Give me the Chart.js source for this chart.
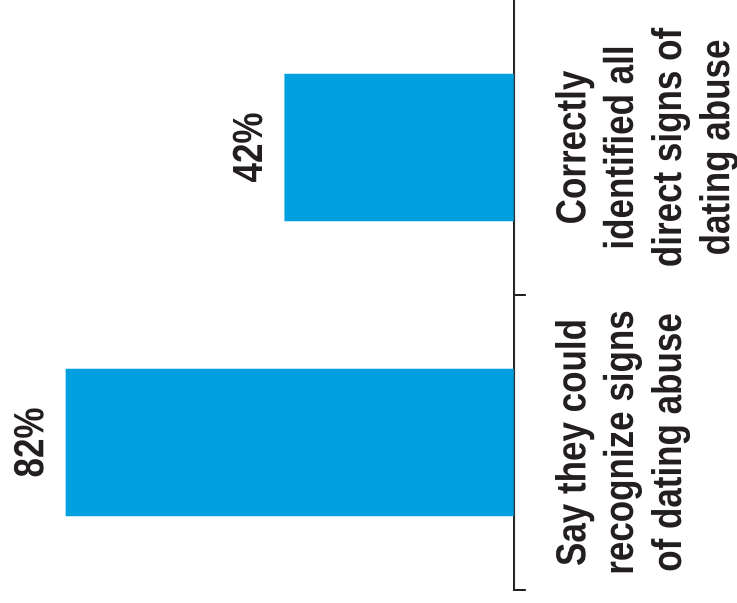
<!DOCTYPE html>
<html>
<head>
<meta charset="utf-8">
<script src="https://cdn.jsdelivr.net/npm/chart.js@4"></script>
<style>
  html, body { margin: 0; padding: 0; background: #fff; }
  #wrap { position: relative; width: 737px; height: 603px; overflow: hidden; }
  /* drawn upright, then turned a quarter turn left and stretched a little
     along the bars so the bold text looks condensed like the original */
  #chart { position: absolute; left: 0; top: 0; transform-origin: 0 0;
           transform: translate(0, 603px) rotate(-90deg) scale(1, 1.18871); }
</style>
</head>
<body>
<div id="wrap"><canvas id="chart" width="603" height="620"></canvas></div>
<script>
var categories = [
  ['Say they could', 'recognize signs', 'of dating abuse'],
  ['Correctly', 'identified all', 'direct signs of', 'dating abuse']
];
var values = [82, 42];
var valueLabels = ['82%', '42%'];

var ink = '#231F20';
var family = '"Liberation Sans", Arial, Helvetica, sans-serif';

// value text above each bar
var valueText = {
  id: 'valueText',
  afterDatasetsDraw: function(chart) {
    var ctx = chart.ctx;
    var meta = chart.getDatasetMeta(0);
    ctx.save();
    ctx.fillStyle = ink;
    ctx.font = 'bold 35px ' + family;
    ctx.textAlign = 'center';
    ctx.textBaseline = 'alphabetic';
    for (var i = 0; i < meta.data.length; i++) {
      var bar = meta.data[i];
      ctx.fillText(valueLabels[i], bar.x, bar.y - 18.5);
    }
    ctx.restore();
  }
};

new Chart(document.getElementById('chart'), {
  type: 'bar',
  data: {
    labels: categories,
    datasets: [{
      data: values,
      backgroundColor: '#009FE0',
      borderWidth: 0,
      barPercentage: 0.5,
      categoryPercentage: 1.0
    }]
  },
  options: {
    responsive: false,
    animation: false,
    devicePixelRatio: 2,
    layout: { padding: { left: 13, right: 0, top: 0, bottom: 0 } },
    plugins: {
      legend: { display: false },
      tooltip: { enabled: false }
    },
    scales: {
      x: {
        grid: {
          display: true,
          drawOnChartArea: false,
          drawTicks: true,
          tickLength: 10,
          lineWidth: 2,
          // no tick at the far end of the axis
          color: function(c) { return c.type === 'tick' ? ink : 'rgba(0,0,0,0)'; }
        },
        border: { display: true, color: ink, width: 1.7 },
        ticks: {
          color: ink,
          autoSkip: false,
          maxRotation: 0,
          minRotation: 0,
          padding: 20,
          font: { family: family, size: 35, weight: 'bold', lineHeight: 1.154 }
        },
        afterFit: function(scale) {
          scale.height = 187.6;
          scale.paddingLeft = 0;
          scale.paddingRight = 0;
        }
      },
      y: {
        display: false,
        min: 0,
        max: 94
      }
    }
  },
  plugins: [valueText]
});
</script>
</body>
</html>
